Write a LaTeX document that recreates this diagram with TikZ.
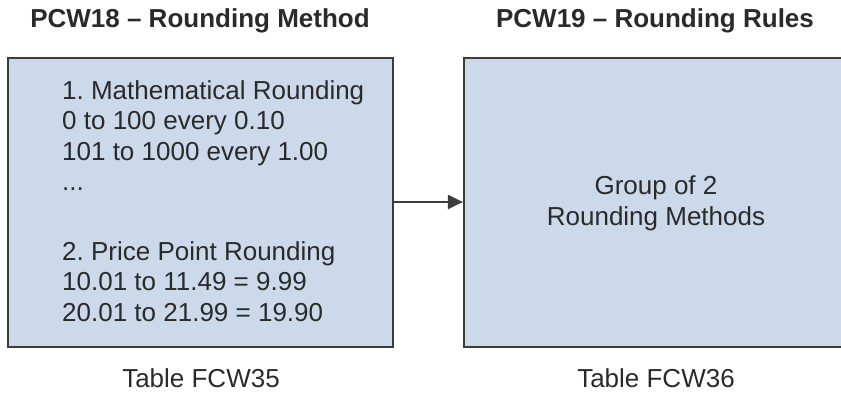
\documentclass[tikz,border=0pt]{standalone}
\usepackage{fontspec}
\setmainfont{Liberation Sans}
\usetikzlibrary{arrows.meta}
\definecolor{boxfill}{HTML}{CCD9EA}
\definecolor{boxline}{HTML}{3C3C3C}
\definecolor{txt}{HTML}{2A2A2A}
\frenchspacing
\begin{document}
\begin{tikzpicture}[x=1pt,y=-1pt,
  panel/.style={draw=boxline,line width=2.2pt,fill=boxfill,inner sep=0pt},
  title/.style={font=\fontsize{26}{30}\selectfont\bfseries,text=txt,inner sep=0pt,anchor=base},
  body/.style={font=\fontsize{26}{30.5}\selectfont,text=txt,inner sep=0pt},
  caption/.style={font=\fontsize{26}{30}\selectfont,text=txt,inner sep=0pt,anchor=base}]
\useasboundingbox (0,0) rectangle (841,394);
\begin{scope}
\clip (0,0) rectangle (841,394);
\node[panel,minimum width=385pt,minimum height=289pt] (left) at (200.5,202.5) {};
\node[panel,minimum width=381pt,minimum height=289pt] (right) at (654.5,202.5) {};
\end{scope}
\node[title] (t1) at (200,27) {PCW18 – Rounding Method};
\node[title] (t2) at (655,27) {PCW19 – Rounding Rules};
\node[body,align=left,anchor=base west] (ltext) at (62,321) {1. Mathematical Rounding\\0 to 100 every 0.10\\101 to 1000 every 1.00\\...\\[39pt]2. Price Point Rounding\\10.01 to 11.49 = 9.99\\20.01 to 21.99 = 19.90};
\node[body,align=center,anchor=base] (rtext) at (656,225) {Group of 2\\Rounding Methods};
\node[caption] (c1) at (201,387) {Table FCW35};
\node[caption] (c2) at (656,387) {Table FCW36};
\draw[line width=2.2pt,draw=boxline,-{Triangle[length=15pt,width=14pt]}] (left.east |- 0,202) -- (right.west |- 0,202);
\end{tikzpicture}
\end{document}
